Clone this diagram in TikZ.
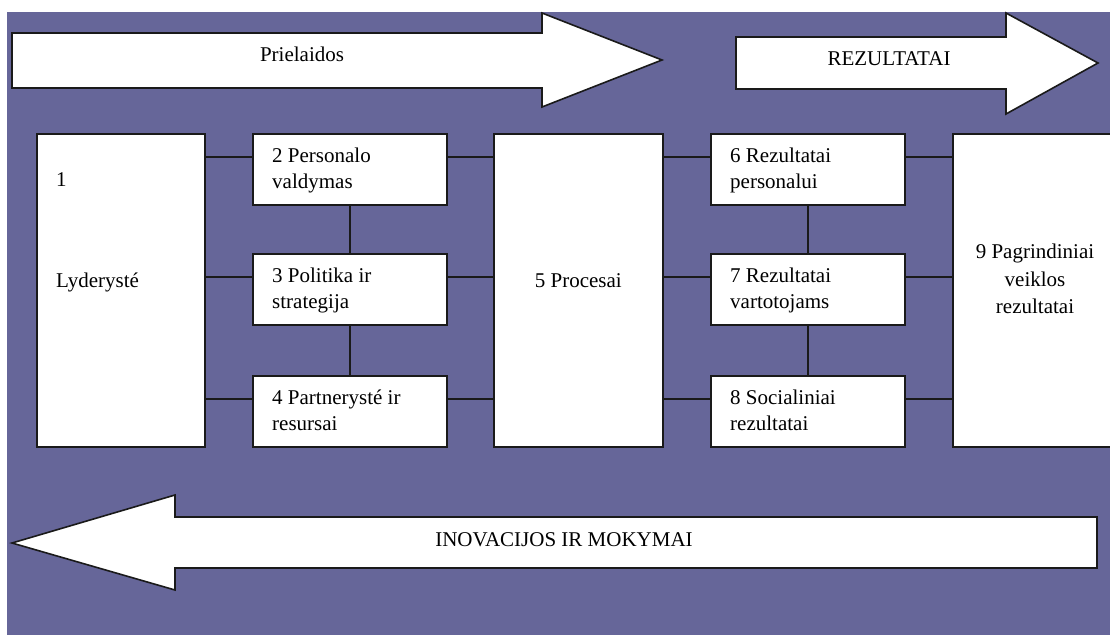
\documentclass[tikz,border=0pt]{standalone}
\usepackage{fontspec}
\setmainfont{Liberation Serif}
\usetikzlibrary{calc}
\definecolor{bgpurple}{HTML}{666699}
\definecolor{ink}{HTML}{1A1A1A}
\begin{document}
\begin{tikzpicture}[x=1pt,y=-1pt,
  box/.style={draw=ink, line width=1.6pt, fill=white, inner sep=0pt, anchor=north west},
  bigarrow/.style={draw=ink, line width=1.6pt, fill=white, line join=miter},
  conn/.style={draw=ink, line width=1.6pt},
  txt/.style={inner sep=0pt, text=black, font=\fontsize{21}{26}\selectfont}]
\useasboundingbox (0,0) rectangle (1110,634);
\clip (0,0) rectangle (1110,634);
\fill[bgpurple] (7,12) rectangle (1112,636);

% big arrows
\draw[bigarrow] (12,33) -- (542,33) -- (542,13) -- (662,60) -- (542,107) -- (542,88) -- (12,88) -- cycle;
\node[txt, anchor=base] (prielaidos) at (302,61) {Prielaidos};
\draw[bigarrow] (736,37) -- (1006,37) -- (1006,13) -- (1098,63) -- (1006,114) -- (1006,89) -- (736,89) -- cycle;
\node[txt, anchor=base] (rezultatai) at (889,66) {REZULTATAI};
\draw[bigarrow] (1097,517) -- (175,517) -- (175,495) -- (12,543) -- (175,590) -- (175,568) -- (1097,568) -- cycle;
\node[txt, anchor=base] (inovacijos) at (564,546) {INOVACIJOS IR MOKYMAI};

% boxes
\node[box, minimum width=168, minimum height=313] (b1) at (36,133) {};
\node[box, minimum width=194, minimum height=71] (b2) at (252,133) {};
\node[box, minimum width=194, minimum height=71] (b3) at (252,253) {};
\node[box, minimum width=194, minimum height=71] (b4) at (252,375) {};
\node[box, minimum width=169, minimum height=313] (b5) at (493,133) {};
\node[box, minimum width=194, minimum height=71] (b6) at (710,133) {};
\node[box, minimum width=194, minimum height=71] (b7) at (710,253) {};
\node[box, minimum width=194, minimum height=71] (b8) at (710,375) {};
\node[box, minimum width=170, minimum height=313] (b9) at (952,133) {};

% connectors
\foreach \b/\l/\r in {b2/b1/b5, b3/b1/b5, b4/b1/b5, b6/b5/b9, b7/b5/b9, b8/b5/b9} {
  \coordinate (row) at ($(\b.north west)+(0,24)$);
  \draw[conn] (row) -- (row -| \l.east);
  \draw[conn] (row -| \b.east) -- (row -| \r.west);
}
\draw[conn] (b2) -- (b3);
\draw[conn] (b3) -- (b4);
\draw[conn] (b6) -- (b7);
\draw[conn] (b7) -- (b8);

% box texts
\node[txt, anchor=base west] (t1a) at ($(b1.north west)+(20,53)$) {1};
\node[txt, anchor=base west] (t1b) at ($(b1.north west)+(20,154)$) {Lyderysté};
\node[txt, anchor=north west, align=left] (t2) at ($(b2.north west)+(20,15)$) {2 Personalo\\valdymas};
\node[txt, anchor=north west, align=left] (t3) at ($(b3.north west)+(20,15)$) {3 Politika ir\\strategija};
\node[txt, anchor=north west, align=left] (t4) at ($(b4.north west)+(20,15)$) {4 Partnerysté ir\\resursai};
\node[txt, anchor=base] (t5) at ($(b5.north)+(0,154)$) {5 Procesai};
\node[txt, anchor=north west, align=left] (t6) at ($(b6.north west)+(20,15)$) {6 Rezultatai\\personalui};
\node[txt, anchor=north west, align=left] (t7) at ($(b7.north west)+(20,15)$) {7 Rezultatai\\vartotojams};
\node[txt, anchor=north west, align=left] (t8) at ($(b8.north west)+(20,15)$) {8 Socialiniai\\rezultatai};
\node[txt, anchor=center, align=center, font=\fontsize{21}{27.5}\selectfont] (t9) at ($(b9.north west)+(83,146)$) {9 Pagrindiniai\\veiklos\\rezultatai};
\end{tikzpicture}
\end{document}
